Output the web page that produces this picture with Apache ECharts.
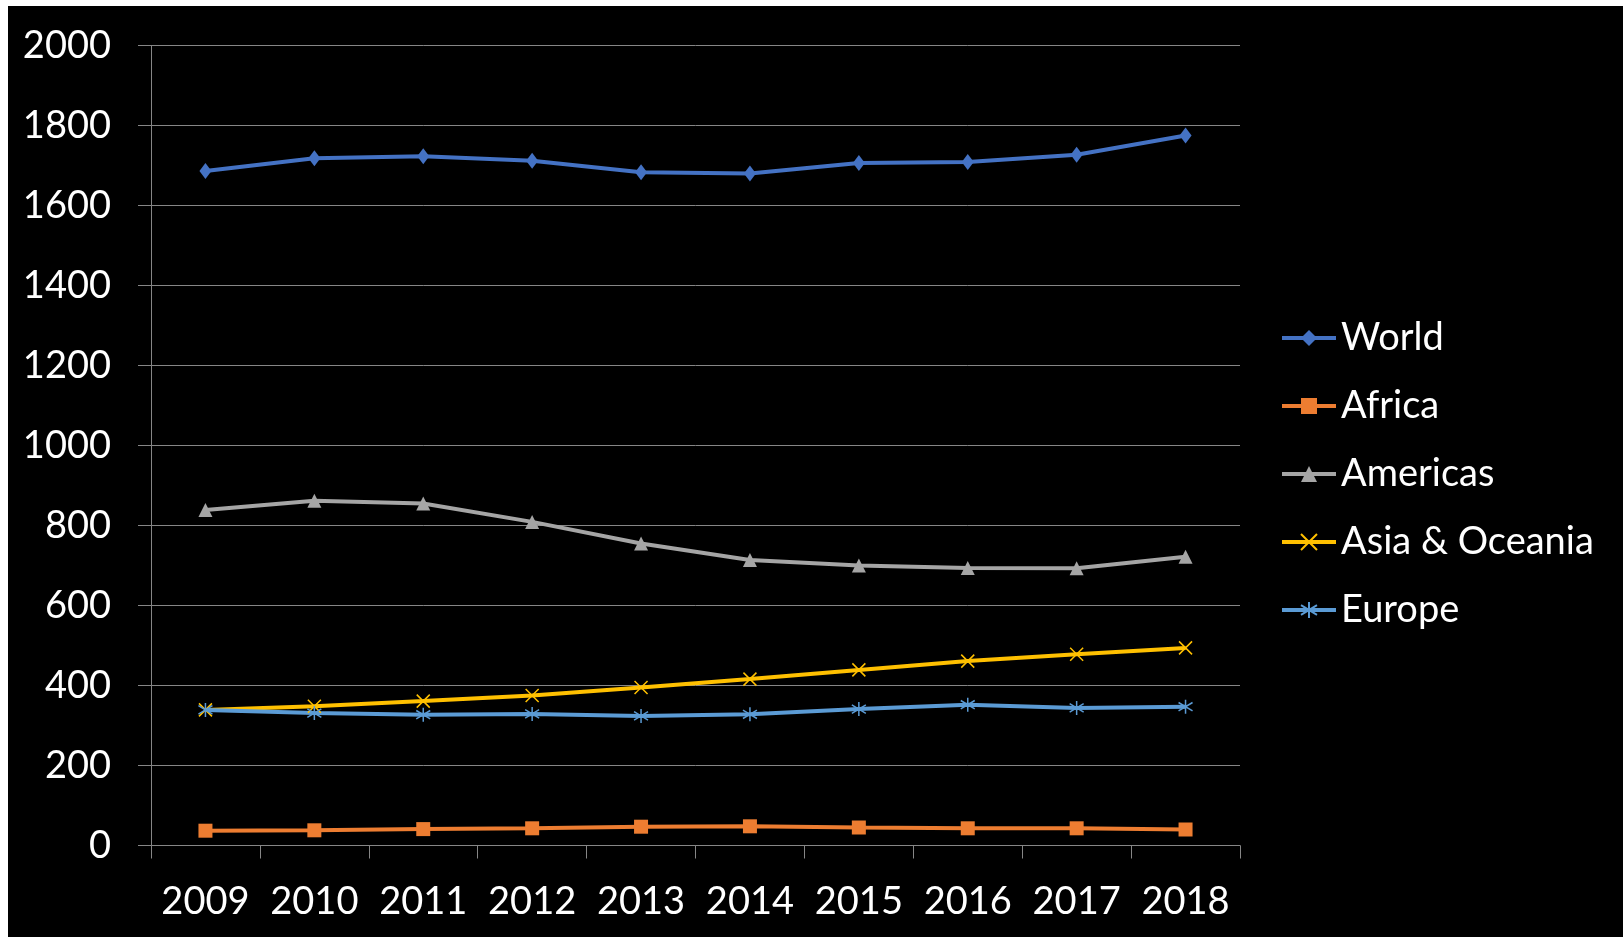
<!DOCTYPE html>
<html>
<head>
<meta charset="utf-8">
<script src="https://cdn.jsdelivr.net/npm/echarts@6/dist/echarts.min.js"></script>
<style>
  html, body { margin: 0; padding: 0; background: #ffffff; width: 1623px; height: 937px; overflow: hidden; }
  #chart { position: absolute; left: 8px; top: 6px; width: 1615px; height: 931px; background: #000000; }
</style>
</head>
<body>
<div id="chart"></div>
<script>
const years = ['2009','2010','2011','2012','2013','2014','2015','2016','2017','2018'];
const world    = [1686, 1718, 1723, 1712, 1683, 1680, 1706, 1709, 1727, 1775];
const africa   = [37, 38, 41, 43, 47, 48, 45, 43, 43, 40];
const americas = [839, 862, 855, 809, 755, 714, 700, 694, 693, 722];
const asia     = [339, 348, 361, 375, 395, 416, 439, 461, 478, 494];
const europe   = [339, 331, 327, 329, 324, 328, 341, 352, 344, 347];
const yTicks = { min: 0, max: 2000, interval: 200 };

const FONT = 'Lato';
const GRID = '#868686';

const xPath = 'path://M0,0L10,10M10,0L0,10';
const starPath = 'path://M5,0L5,10M0,2L10,8M0,8L10,2';

function lineSeries(name, data, color, symbol, size, strokeOnly) {
  return {
    name: name,
    type: 'line',
    data: data,
    symbol: symbol,
    symbolSize: size,
    showAllSymbol: true,
    lineStyle: { color: color, width: 4 },
    itemStyle: strokeOnly
      ? { color: 'none', borderColor: color, borderWidth: 1.5 }
      : { color: color, borderColor: color, borderWidth: 0 },
    emphasis: { disabled: true },
    animation: false,
    z: 3
  };
}

const chart = echarts.init(document.getElementById('chart'), null, { renderer: 'canvas' });
chart.setOption({
  backgroundColor: '#000000',
  animation: false,
  grid: { left: 143, right: 383, top: 39.5, bottom: 91.5, containLabel: false },
  legend: {
    orient: 'vertical',
    left: 1267,
    top: 307,
    itemWidth: 54,
    itemHeight: 20,
    itemGap: 28,
    lineStyle: { width: 4 },
    textStyle: { color: '#ffffff', fontFamily: FONT, fontSize: 38, lineHeight: 40 },
    data: ['World', 'Africa', 'Americas', 'Asia & Oceania', 'Europe']
  },
  xAxis: {
    type: 'category',
    data: years,
    boundaryGap: true,
    axisLine: { show: true, lineStyle: { color: GRID, width: 1 } },
    axisTick: { show: true, length: 13, interval: 0, lineStyle: { color: GRID, width: 1 } },
    axisLabel: { color: '#ffffff', fontFamily: FONT, fontSize: 38, margin: 37, interval: 0 },
    splitLine: { show: false }
  },
  yAxis: {
    type: 'value',
    min: yTicks.min,
    max: yTicks.max,
    interval: yTicks.interval,
    axisLine: { show: true, lineStyle: { color: GRID, width: 1 } },
    axisTick: { show: true, length: 13, lineStyle: { color: GRID, width: 1 } },
    axisLabel: { color: '#ffffff', fontFamily: FONT, fontSize: 38, margin: 40, formatter: function (v) { return String(v); } },
    splitLine: { show: true, lineStyle: { color: GRID, width: 1 } }
  },
  series: [
    lineSeries('World', world, '#4472C4', 'diamond', [12, 16], false),
    lineSeries('Africa', africa, '#ED7D31', 'rect', 14, false),
    lineSeries('Americas', americas, '#A5A5A5', 'triangle', 14, false),
    lineSeries('Asia & Oceania', asia, '#FFC000', xPath, 13, true),
    lineSeries('Europe', europe, '#5B9BD5', starPath, 14, true)
  ]
});
</script>
</body>
</html>
